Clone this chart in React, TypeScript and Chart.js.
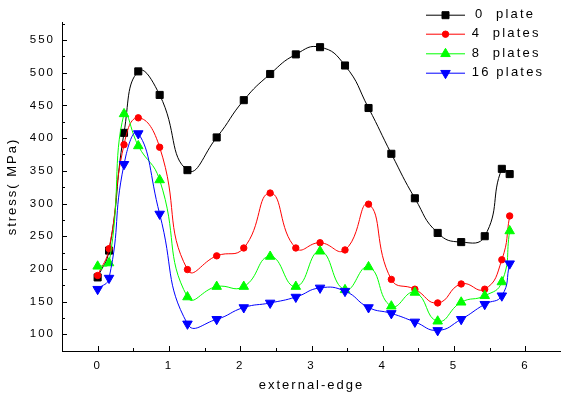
import React, { useEffect, useRef } from 'react';
import { Chart, registerables } from 'chart.js';

Chart.register(...registerables);

// ---- data ----
const xPositions = [0, 0.16, 0.37, 0.57, 0.87, 1.26, 1.67, 2.05, 2.42, 2.78, 3.12, 3.47, 3.8, 4.12, 4.45, 4.77, 5.1, 5.43, 5.67, 5.78];
const plate0 = [187, 228, 408, 502, 466, 351, 401, 458, 498, 528, 539, 511, 446, 376, 308, 255, 241, 250, 353, 345];
const plate4 = [190, 231, 390, 431, 386, 199, 220, 232, 316, 232, 240, 229, 299, 184, 169, 148, 177, 169, 214, 281];
const plate8 = [204, 209, 437, 388, 336, 157, 173, 173, 219, 173, 227, 168, 203, 143, 164, 120, 149, 159, 180, 258];
const plate16 = [169, 186, 360, 407, 284, 116, 123, 141, 148, 157, 171, 166, 141, 132, 119, 106, 123, 146, 159, 208];

const seriesNames = ['0  plate', '4  plates', '8  plates', '16 plates'];
const xTickValues = [0, 1, 2, 3, 4, 5, 6];
const yTickValues = [100, 150, 200, 250, 300, 350, 400, 450, 500, 550];
const xTitle = 'external-edge';
const yTitle = 'stress( MPa)';

// ---- styles ----
const colors = ['#000000', '#ff0000', '#00ff00', '#0000ff'];
const pointStyles = ['rect', 'circle', 'triangle', 'triangle'];
const pointRadii = [5, 3.2, 5.5, 5.5];
const pointRotations = [0, 0, 0, 180];
const FONT = '"Liberation Sans", Arial, sans-serif';

function drawMarker(ctx: CanvasRenderingContext2D, i: number, x: number, y: number) {
  ctx.fillStyle = colors[i];
  ctx.strokeStyle = colors[i];
  ctx.beginPath();
  if (i === 0) {
    ctx.rect(x - 3.5, y - 3.5, 7, 7);
  } else if (i === 1) {
    ctx.arc(x, y, 3.2, 0, Math.PI * 2);
  } else {
    const r = 5.5;
    const flip = i === 3 ? -1 : 1;
    ctx.moveTo(x, y - flip * r);
    ctx.lineTo(x + r * 0.866, y + flip * r * 0.5);
    ctx.lineTo(x - r * 0.866, y + flip * r * 0.5);
    ctx.closePath();
  }
  ctx.fill();
  ctx.stroke();
}

const extrasPlugin = {
  id: 'extras',
  beforeDraw(chart: any) {
    (chart.ctx as any).letterSpacing = '2px';
  },
  afterDraw(chart: any) {
    const ctx: CanvasRenderingContext2D = chart.ctx;
    const xs = chart.scales.x;
    const ys = chart.scales.y;
    const { bottom, left } = chart.chartArea;
    ctx.save();
    ctx.strokeStyle = '#000';
    ctx.lineWidth = 1;
    ctx.beginPath();
    for (let v = xs.min; v <= xs.max + 1e-9; v += 0.5) {
      const px = Math.round(xs.getPixelForValue(v)) + 0.5;
      const major = Math.abs(v - Math.round(v)) < 1e-6;
      const len = major ? 5 : 3;
      ctx.moveTo(px, bottom);
      ctx.lineTo(px, bottom - len);
    }
    for (let v = Math.ceil(ys.min / 25) * 25; v <= ys.max + 1e-9; v += 25) {
      const py = Math.round(ys.getPixelForValue(v)) + 0.5;
      const major = v % 50 === 0;
      const len = major ? 5 : 3;
      ctx.moveTo(left, py);
      ctx.lineTo(left + len, py);
    }
    ctx.stroke();

    // legend
    const rows = [14.7, 33.7, 53.3, 72.7];
    const textX = [475, 471.7, 471.7, 471.7];
    ctx.font = `13px ${FONT}`;
    (ctx as any).letterSpacing = '2.2px';
    ctx.textBaseline = 'middle';
    ctx.textAlign = 'left';
    chart.data.datasets.forEach((ds: any, i: number) => {
      const y = rows[i];
      ctx.strokeStyle = colors[i];
      ctx.lineWidth = 1;
      ctx.beginPath();
      ctx.moveTo(426, y + 0.5);
      ctx.lineTo(465, y + 0.5);
      ctx.stroke();
      drawMarker(ctx, i, 445.5, y + 0.5);
      ctx.fillStyle = '#000';
      ctx.fillText(ds.label, textX[i], y);
    });
    ctx.restore();
    (ctx as any).letterSpacing = '0px';
  },
};

export default function App() {
  const ref = useRef<HTMLCanvasElement>(null);
  useEffect(() => {
    const canvas = ref.current!;
    const seriesList = [plate0, plate4, plate8, plate16];
    const datasets = seriesList.map((vals, i) => ({
      label: seriesNames[i],
      data: xPositions.map((x, j) => ({ x, y: vals[j] })),
      borderColor: colors[i],
      backgroundColor: colors[i],
      pointBackgroundColor: colors[i],
      pointBorderColor: colors[i],
      borderWidth: 1,
      pointStyle: pointStyles[i] as any,
      pointRadius: pointRadii[i],
      pointRotation: pointRotations[i],
      pointBorderWidth: 1,
      tension: 0.5,
      order: 3 - i,
    }));
    const chart = new Chart(canvas, {
      type: 'line',
      data: { datasets },
      options: {
        responsive: false,
        devicePixelRatio: 1,
        animation: false,
        layout: { autoPadding: false, padding: { top: 22, right: 0, left: 0, bottom: 0 } },
        plugins: { legend: { display: false }, tooltip: { enabled: false } },
        scales: {
          x: {
            type: 'linear',
            min: -0.5,
            max: 6.5,
            afterBuildTicks: (s: any) => {
              s.ticks = xTickValues.map((v) => ({ value: v }));
            },
            afterFit: (s: any) => {
              s.height = 50;
              s.paddingRight = 0;
              s.paddingLeft = 0;
            },
            grid: { display: false, drawTicks: false },
            border: { display: true, color: '#000', width: 1 },
            ticks: { color: '#000', font: { family: FONT, size: 11.5 }, padding: 8, maxRotation: 0, autoSkip: false },
            title: { display: true, text: xTitle, color: '#000', font: { family: FONT, size: 13 }, padding: { top: 0, bottom: 8 } },
          },
          y: {
            type: 'linear',
            min: 74.5,
            max: 577.5,
            afterBuildTicks: (s: any) => {
              s.ticks = yTickValues.map((v) => ({ value: v }));
            },
            afterFit: (s: any) => {
              s.width = 62;
              s.paddingTop = 0;
              s.paddingBottom = 0;
            },
            grid: { display: false, drawTicks: false },
            border: { display: true, color: '#000', width: 1 },
            ticks: { color: '#000', font: { family: FONT, size: 11.5 }, padding: 7, autoSkip: false },
            title: { display: true, text: yTitle, color: '#000', font: { family: FONT, size: 13 }, padding: { top: 5, bottom: 0 } },
          },
        },
      },
      plugins: [extrasPlugin],
    });
    return () => chart.destroy();
  }, []);
  return (
    <div style={{ position: 'fixed', left: 0, top: 0, width: 561, height: 401, background: '#fff' }}>
      <canvas ref={ref} width={561} height={401} style={{ display: 'block' }} />
    </div>
  );
}
